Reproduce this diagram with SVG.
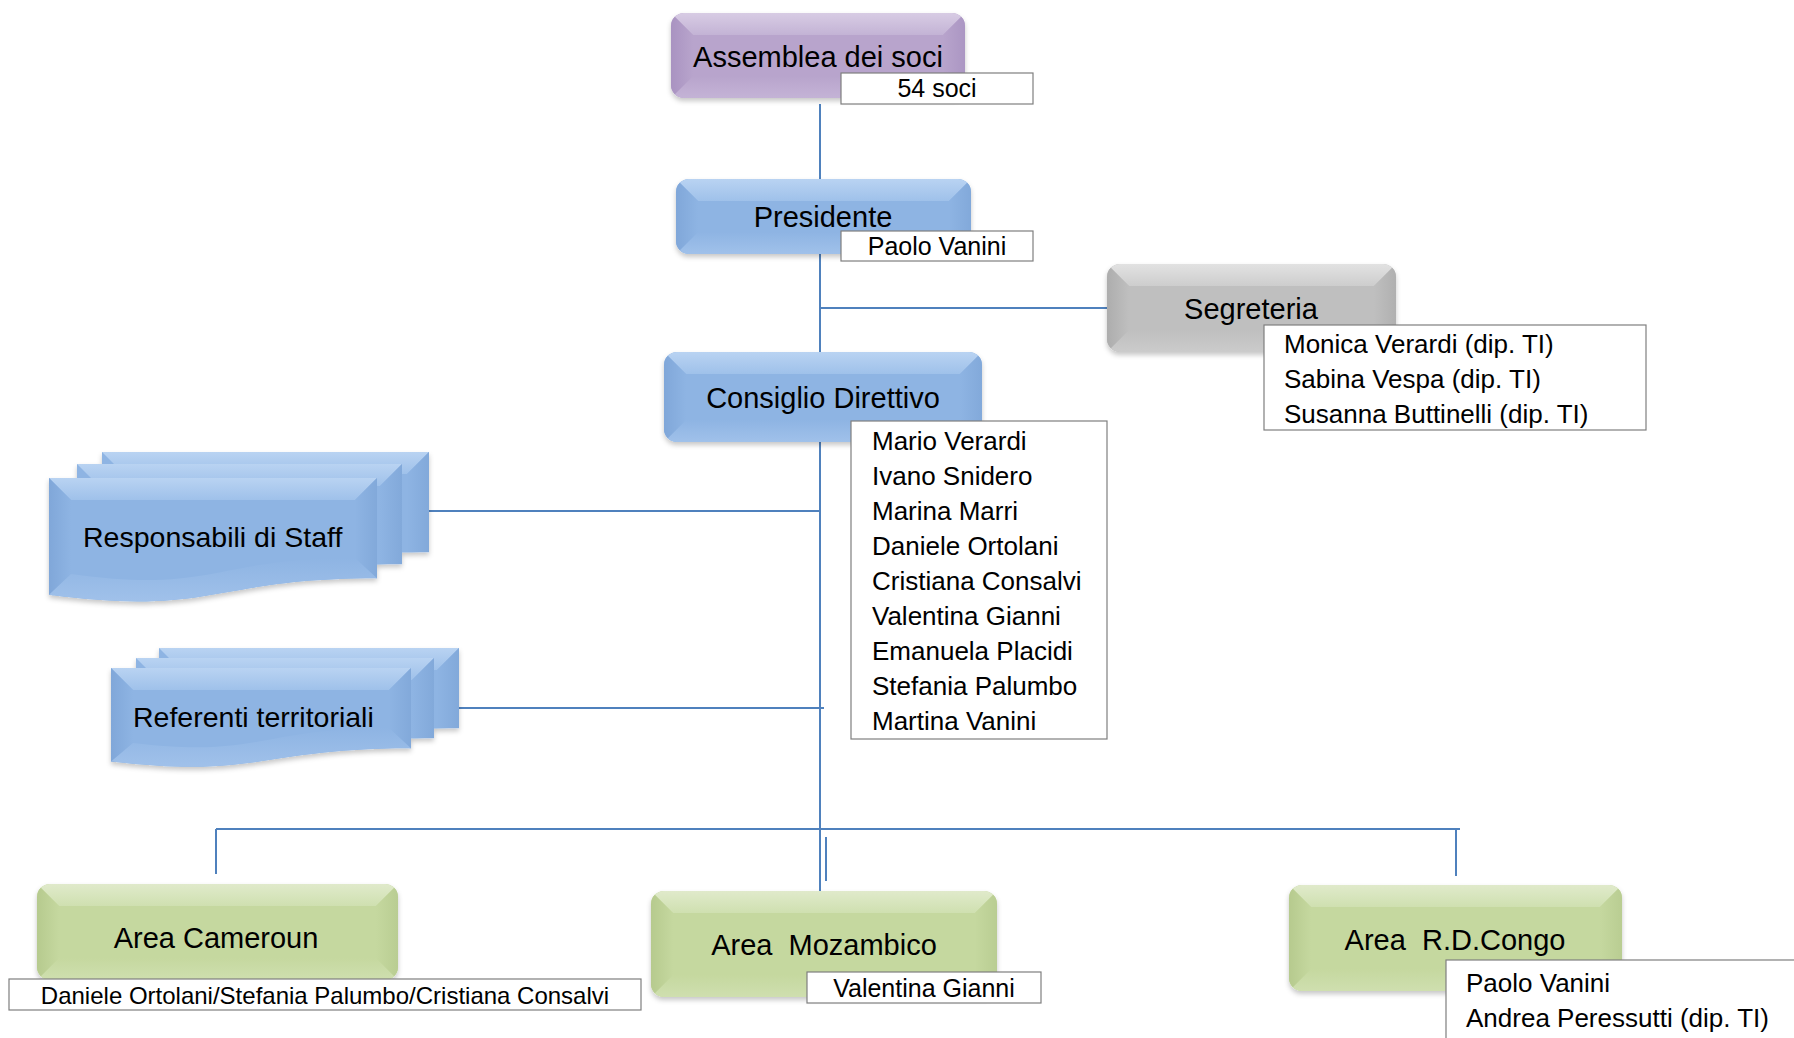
<svg xmlns="http://www.w3.org/2000/svg" width="1794" height="1038" viewBox="0 0 1794 1038">
<style>
.t{font-family:"Liberation Sans",Arial,sans-serif;fill:#000;}
.ttl{font-size:29px;text-anchor:middle;}
.lst{font-size:26px;}
.lbt{font-size:25px;text-anchor:middle;}
.lbl{fill:#fff;stroke:#7f7f7f;stroke-width:1.2;}
.cn{stroke:#4f81bd;stroke-width:2;fill:none;}
.pc{fill:#b8a4cc}.pt{fill:url(#pT)}.pl{fill:url(#pL)}.pr{fill:url(#pR)}.pb{fill:url(#pB)}
.bc{fill:#8eb4e3}.bt{fill:url(#bT)}.bl{fill:url(#bL)}.br{fill:url(#bR)}.bb{fill:url(#bB)}
.gc{fill:#bfbfbf}.gt{fill:url(#gT)}.gl{fill:url(#gL)}.gr{fill:url(#gR)}.gb{fill:url(#gB)}
.vc{fill:#c5d89f}.vt{fill:url(#vT)}.vl{fill:url(#vL)}.vr{fill:url(#vR)}.vb{fill:url(#vB)}
</style>
<defs>
<filter id="sh" x="-10%" y="-10%" width="120%" height="130%">
<feDropShadow dx="0" dy="3" stdDeviation="2.5" flood-color="#000" flood-opacity="0.22"/>
</filter>
<linearGradient id="pT" x1="0" y1="0" x2="0" y2="1"><stop offset="0" stop-color="#d8cce4"/><stop offset="1" stop-color="#c3b3d5"/></linearGradient>
<linearGradient id="pB" x1="0" y1="1" x2="0" y2="0"><stop offset="0" stop-color="#c4b3d6"/><stop offset="1" stop-color="#b8a4cc"/></linearGradient>
<linearGradient id="pL" x1="0" y1="0" x2="1" y2="0"><stop offset="0" stop-color="#a993c1"/><stop offset="1" stop-color="#b8a4cc"/></linearGradient>
<linearGradient id="pR" x1="1" y1="0" x2="0" y2="0"><stop offset="0" stop-color="#ab96c3"/><stop offset="1" stop-color="#b8a4cc"/></linearGradient>
<linearGradient id="bT" x1="0" y1="0" x2="0" y2="1"><stop offset="0" stop-color="#b9d3f2"/><stop offset="1" stop-color="#9fc1ea"/></linearGradient>
<linearGradient id="bB" x1="0" y1="1" x2="0" y2="0"><stop offset="0" stop-color="#a0c1ea"/><stop offset="1" stop-color="#8eb4e3"/></linearGradient>
<linearGradient id="bL" x1="0" y1="0" x2="1" y2="0"><stop offset="0" stop-color="#80a7d9"/><stop offset="1" stop-color="#8eb4e3"/></linearGradient>
<linearGradient id="bR" x1="1" y1="0" x2="0" y2="0"><stop offset="0" stop-color="#82a9da"/><stop offset="1" stop-color="#8eb4e3"/></linearGradient>
<linearGradient id="gT" x1="0" y1="0" x2="0" y2="1"><stop offset="0" stop-color="#e2e2e2"/><stop offset="1" stop-color="#cdcdcd"/></linearGradient>
<linearGradient id="gB" x1="0" y1="1" x2="0" y2="0"><stop offset="0" stop-color="#cbcbcb"/><stop offset="1" stop-color="#bfbfbf"/></linearGradient>
<linearGradient id="gL" x1="0" y1="0" x2="1" y2="0"><stop offset="0" stop-color="#adadad"/><stop offset="1" stop-color="#bfbfbf"/></linearGradient>
<linearGradient id="gR" x1="1" y1="0" x2="0" y2="0"><stop offset="0" stop-color="#b0b0b0"/><stop offset="1" stop-color="#bfbfbf"/></linearGradient>
<linearGradient id="vT" x1="0" y1="0" x2="0" y2="1"><stop offset="0" stop-color="#e0eacb"/><stop offset="1" stop-color="#cfe0b0"/></linearGradient>
<linearGradient id="vB" x1="0" y1="1" x2="0" y2="0"><stop offset="0" stop-color="#cfdfaf"/><stop offset="1" stop-color="#c5d89f"/></linearGradient>
<linearGradient id="vL" x1="0" y1="0" x2="1" y2="0"><stop offset="0" stop-color="#b6ca8e"/><stop offset="1" stop-color="#c5d89f"/></linearGradient>
<linearGradient id="vR" x1="1" y1="0" x2="0" y2="0"><stop offset="0" stop-color="#b9cd92"/><stop offset="1" stop-color="#c5d89f"/></linearGradient>
<clipPath id="c-ass"><rect x="671" y="13" width="294" height="85" rx="13"/></clipPath>
<clipPath id="c-pre"><rect x="676" y="179" width="295" height="75" rx="13"/></clipPath>
<clipPath id="c-seg"><rect x="1107" y="264" width="289" height="88" rx="13"/></clipPath>
<clipPath id="c-con"><rect x="664" y="352" width="318" height="90" rx="13"/></clipPath>
<clipPath id="c-cam"><rect x="37" y="884" width="361" height="96" rx="13"/></clipPath>
<clipPath id="c-moz"><rect x="651" y="891" width="346" height="106" rx="13"/></clipPath>
<clipPath id="c-cgo"><rect x="1289" y="885" width="333" height="106" rx="13"/></clipPath>
<clipPath id="c-resp"><path d="M49,478 H377 V578.3 C213,578.3 213,616.4 49,594.8 Z"/></clipPath>
<clipPath id="c-ref"><path d="M111,668 H411 V748.2 C261,748.2 261,778.7 111,761.4 Z"/></clipPath>
</defs>
<rect width="1794" height="1038" fill="#fff"/>

<g id="connectors">
<line class="cn" x1="820" y1="104" x2="820" y2="179"/>
<line class="cn" x1="820" y1="254" x2="820" y2="352"/>
<line class="cn" x1="820" y1="308" x2="1107" y2="308"/>
<line class="cn" x1="820" y1="442" x2="820" y2="891"/>
<line class="cn" x1="429" y1="511" x2="820" y2="511"/>
<line class="cn" x1="459" y1="708" x2="824" y2="708"/>
<line class="cn" x1="216" y1="829" x2="1460" y2="829"/>
<line class="cn" x1="216" y1="829" x2="216" y2="874"/>
<line class="cn" x1="826" y1="837" x2="826" y2="881"/>
<line class="cn" x1="1456" y1="829" x2="1456" y2="876"/>
</g>

<g id="assemblea">
<g filter="url(#sh)"><g clip-path="url(#c-ass)">
<rect class="pc" x="671" y="13" width="294" height="85"/>
<polygon class="pt" points="671,13 965,13 943,35 693,35"/>
<polygon class="pb" points="671,98 965,98 943,76 693,76"/>
<polygon class="pl" points="671,13 693,35 693,76 671,98"/>
<polygon class="pr" points="965,13 943,35 943,76 965,98"/>
</g></g>
<text class="t ttl" x="818" y="67">Assemblea dei soci</text>
<rect class="lbl" x="841" y="73" width="192" height="31"/>
<text class="t lbt" x="937" y="97">54 soci</text>
</g>

<g id="presidente">
<g filter="url(#sh)"><g clip-path="url(#c-pre)">
<rect class="bc" x="676" y="179" width="295" height="75"/>
<polygon class="bt" points="676,179 971,179 949,201 698,201"/>
<polygon class="bb" points="676,254 971,254 949,232 698,232"/>
<polygon class="bl" points="676,179 698,201 698,232 676,254"/>
<polygon class="br" points="971,179 949,201 949,232 971,254"/>
</g></g>
<text class="t ttl" x="823" y="227">Presidente</text>
<rect class="lbl" x="841" y="231" width="192" height="30"/>
<text class="t lbt" x="937" y="255">Paolo Vanini</text>
</g>

<g id="segreteria">
<g filter="url(#sh)"><g clip-path="url(#c-seg)">
<rect class="gc" x="1107" y="264" width="289" height="88"/>
<polygon class="gt" points="1107,264 1396,264 1374,286 1129,286"/>
<polygon class="gb" points="1107,352 1396,352 1374,330 1129,330"/>
<polygon class="gl" points="1107,264 1129,286 1129,330 1107,352"/>
<polygon class="gr" points="1396,264 1374,286 1374,330 1396,352"/>
</g></g>
<text class="t ttl" x="1251" y="319">Segreteria</text>
<rect class="lbl" x="1264" y="325" width="382" height="105"/>
<text class="t lst" x="1284" y="353">Monica Verardi (dip. TI)</text>
<text class="t lst" x="1284" y="388">Sabina Vespa (dip. TI)</text>
<text class="t lst" x="1284" y="423">Susanna Buttinelli (dip. TI)</text>
</g>

<g id="consiglio">
<g filter="url(#sh)"><g clip-path="url(#c-con)">
<rect class="bc" x="664" y="352" width="318" height="90"/>
<polygon class="bt" points="664,352 982,352 960,374 686,374"/>
<polygon class="bb" points="664,442 982,442 960,420 686,420"/>
<polygon class="bl" points="664,352 686,374 686,420 664,442"/>
<polygon class="br" points="982,352 960,374 960,420 982,442"/>
</g></g>
<text class="t ttl" x="823" y="408">Consiglio Direttivo</text>
<rect class="lbl" x="851" y="421" width="256" height="318"/>
<text class="t lst" x="872" y="450">Mario Verardi</text>
<text class="t lst" x="872" y="485">Ivano Snidero</text>
<text class="t lst" x="872" y="520">Marina Marri</text>
<text class="t lst" x="872" y="555">Daniele Ortolani</text>
<text class="t lst" x="872" y="590">Cristiana Consalvi</text>
<text class="t lst" x="872" y="625">Valentina Gianni</text>
<text class="t lst" x="872" y="660">Emanuela Placidi</text>
<text class="t lst" x="872" y="695">Stefania Palumbo</text>
<text class="t lst" x="872" y="730">Martina Vanini</text>
</g>

<g id="responsabili">
<g filter="url(#sh)">
<path class="bc" d="M102,452 H429 V552.3 C265.5,552.3 265.5,590.4 102,568.8 Z"/>
<polygon class="bt" points="102,452 429,452 407,474 124,474"/>
<polygon class="br" points="429,452 407,474 407,552 429,552"/>
<path class="bc" d="M77,464 H402 V564.3 C239.5,564.3 239.5,602.4 77,580.8 Z"/>
<polygon class="bt" points="77,464 402,464 380,486 99,486"/>
<polygon class="br" points="402,464 380,486 380,564 402,564"/>
<g clip-path="url(#c-resp)">
<rect class="bc" x="49" y="478" width="328" height="140"/>
<polygon class="bt" points="49,478 377,478 355,500 71,500"/>
<polygon class="bl" points="49,478 71,500 71,578 49,600"/>
<polygon class="br" points="377,478 355,500 355,558 377,580"/>
<path class="bb" d="M49,594.8 C213,616.4 213,578.3 377,578.3 L355,558 C213,558 213,594 71,574 Z"/>
</g>
</g>
<text class="t" style="font-size:28.5px" x="83" y="547">Responsabili di Staff</text>
</g>

<g id="referenti">
<g filter="url(#sh)">
<path class="bc" d="M159,648 H459 V728.2 C309,728.2 309,758.7 159,741.4 Z"/>
<polygon class="bt" points="159,648 459,648 437,670 181,670"/>
<polygon class="br" points="459,648 437,670 437,728 459,728"/>
<path class="bc" d="M136,658 H434 V738.2 C285,738.2 285,768.7 136,751.4 Z"/>
<polygon class="bt" points="136,658 434,658 412,680 158,680"/>
<polygon class="br" points="434,658 412,680 412,738 434,738"/>
<g clip-path="url(#c-ref)">
<rect class="bc" x="111" y="668" width="300" height="115"/>
<polygon class="bt" points="111,668 411,668 389,690 133,690"/>
<polygon class="bl" points="111,668 133,690 133,743 111,765"/>
<polygon class="br" points="411,668 389,690 389,728 411,750"/>
<path class="bb" d="M111,761.4 C261,778.7 261,748.2 411,748.2 L389,728 C261,728 261,758 133,743 Z"/>
</g>
</g>
<text class="t" style="font-size:28.5px" x="133" y="727">Referenti territoriali</text>
</g>

<g id="area-cameroun">
<g filter="url(#sh)"><g clip-path="url(#c-cam)">
<rect class="vc" x="37" y="884" width="361" height="96"/>
<polygon class="vt" points="37,884 398,884 376,906 59,906"/>
<polygon class="vb" points="37,980 398,980 376,958 59,958"/>
<polygon class="vl" points="37,884 59,906 59,958 37,980"/>
<polygon class="vr" points="398,884 376,906 376,958 398,980"/>
</g></g>
<text class="t ttl" x="216" y="948">Area Cameroun</text>
<rect class="lbl" x="9" y="979" width="632" height="31"/>
<text class="t" style="font-size:24px;text-anchor:middle" x="325" y="1004">Daniele Ortolani/Stefania Palumbo/Cristiana Consalvi</text>
</g>

<g id="area-mozambico">
<g filter="url(#sh)"><g clip-path="url(#c-moz)">
<rect class="vc" x="651" y="891" width="346" height="106"/>
<polygon class="vt" points="651,891 997,891 975,913 673,913"/>
<polygon class="vb" points="651,997 997,997 975,975 673,975"/>
<polygon class="vl" points="651,891 673,913 673,975 651,997"/>
<polygon class="vr" points="997,891 975,913 975,975 997,997"/>
</g></g>
<text class="t ttl" x="824" y="955" xml:space="preserve">Area  Mozambico</text>
<rect class="lbl" x="807" y="972" width="234" height="31"/>
<text class="t lbt" x="924" y="997">Valentina Gianni</text>
</g>

<g id="area-congo">
<g filter="url(#sh)"><g clip-path="url(#c-cgo)">
<rect class="vc" x="1289" y="885" width="333" height="106"/>
<polygon class="vt" points="1289,885 1622,885 1600,907 1311,907"/>
<polygon class="vb" points="1289,991 1622,991 1600,969 1311,969"/>
<polygon class="vl" points="1289,885 1311,907 1311,969 1289,991"/>
<polygon class="vr" points="1622,885 1600,907 1600,969 1622,991"/>
</g></g>
<text class="t ttl" x="1455" y="950" xml:space="preserve">Area  R.D.Congo</text>
<rect class="lbl" x="1446" y="960" width="360" height="90"/>
<text class="t lst" x="1466" y="992">Paolo Vanini</text>
<text class="t lst" x="1466" y="1027">Andrea Peressutti (dip. TI)</text>
</g>
</svg>
